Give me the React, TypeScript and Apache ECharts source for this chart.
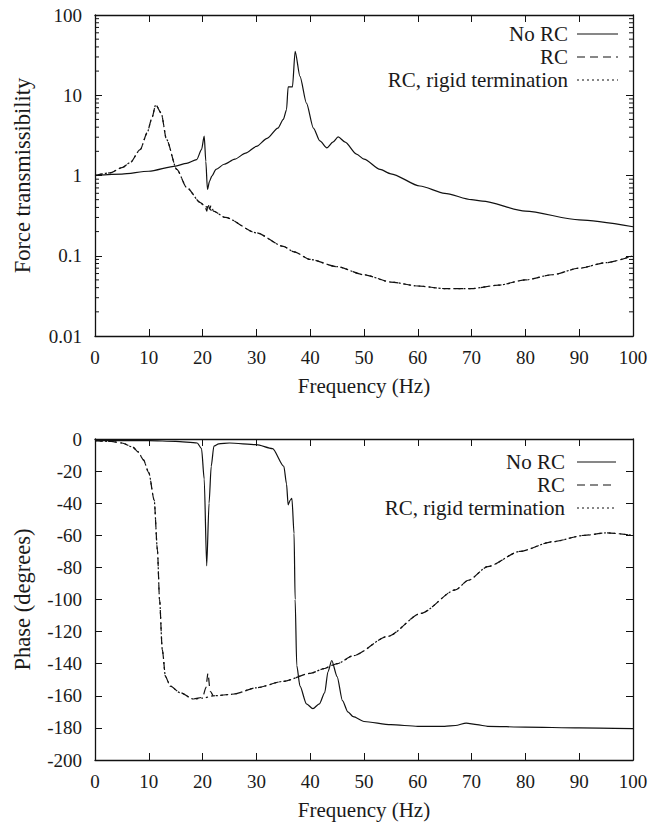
import React, { useEffect, useRef } from "react";
import * as echarts from "echarts";

// ---------- Data ----------
const magNoRcFreq = [0, 5, 10, 15, 17, 18.9, 19.8, 20.3, 20.6, 20.9, 21.3, 21.7, 22.5, 24, 26, 28, 30, 32, 34, 35, 35.6, 35.9, 36.7, 37.2, 38.1, 39.3, 40.6, 41.8, 43.1, 44.2, 45.2, 46.5, 48.6, 50, 53, 55, 60.4, 65, 70, 72, 80, 90, 100];
const magNoRc = [1.0, 1.04, 1.13, 1.31, 1.42, 1.58, 2.1, 3.09, 1.5, 0.67, 0.85, 0.98, 1.19, 1.38, 1.6, 1.9, 2.3, 2.9, 3.9, 5.0, 6.6, 12.7, 12.7, 35.3, 17.2, 8.0, 3.9, 2.7, 2.21, 2.6, 3.03, 2.6, 1.85, 1.6, 1.19, 1.05, 0.74, 0.6, 0.5, 0.48, 0.36, 0.28, 0.23];

const magRcFreq = [0, 2.8, 5, 6.5, 8.4, 9.7, 10.5, 11.3, 12.3, 13.3, 15.2, 17.1, 19.6, 20.5, 20.8, 21.0, 21.3, 21.6, 22, 24.2, 30, 35, 37, 40, 45, 50, 55, 60, 65, 70, 75, 80, 85, 90, 95, 100];
const magRc = [1.0, 1.08, 1.25, 1.44, 2.1, 3.4, 5.0, 7.6, 6.0, 2.8, 1.19, 0.7, 0.46, 0.4, 0.36, 0.45, 0.38, 0.43, 0.36, 0.3, 0.193, 0.131, 0.112, 0.09, 0.073, 0.058, 0.047, 0.042, 0.039, 0.039, 0.043, 0.05, 0.058, 0.07, 0.082, 0.1];

const magRigidFreq = [0, 2.8, 5, 6.5, 8.4, 9.7, 10.5, 11.3, 12.3, 13.3, 15.2, 17.1, 19.6, 20.5, 22, 24.2, 30, 35, 37, 40, 45, 50, 55, 60, 65, 70, 75, 80, 85, 90, 95, 100];
const magRigid = [1.0, 1.08, 1.25, 1.44, 2.1, 3.4, 5.0, 7.6, 6.0, 2.8, 1.19, 0.7, 0.46, 0.41, 0.36, 0.3, 0.193, 0.131, 0.112, 0.09, 0.073, 0.058, 0.047, 0.042, 0.039, 0.039, 0.043, 0.05, 0.058, 0.07, 0.082, 0.1];

const phNoRcFreq = [0, 10, 15, 19, 19.8, 20.3, 20.76, 21.2, 21.6, 22.1, 23, 25, 30, 33, 35.1, 35.6, 35.9, 36.3, 36.6, 37, 37.2, 37.5, 38.1, 39.3, 40.5, 41.7, 42.7, 43.3, 44, 45, 46, 47, 48, 50, 55, 60, 65, 67, 69, 71, 73, 80, 90, 100];
const phNoRc = [-1, -1, -1.5, -2.5, -6, -25, -79, -40, -17, -4.4, -3, -2.5, -3.5, -6, -17, -28, -41, -38, -37, -59, -100, -141, -154, -165, -168, -165, -158, -145, -138, -148, -163, -170, -173, -176, -178, -179, -179, -178.5, -177, -178, -179, -179.5, -180, -180.5];

const phRcFreq = [0, 3, 5, 7, 8, 9, 10, 11, 11.6, 12, 12.5, 13.1, 14, 15.8, 18.3, 20, 20.6, 21, 21.4, 22, 25.7, 30, 35, 40, 42.7, 44, 45, 48, 54.4, 60.6, 67, 69.4, 73, 79, 85, 91, 95, 100];
const phRc = [-1, -1.5, -2.5, -5, -8, -13, -21, -38, -69, -100, -131, -148, -154, -158, -162, -161, -155, -146, -157, -160, -159, -155, -151, -146, -143, -141, -140, -135, -123, -108.6, -94, -88, -79.5, -70, -64, -60, -58.5, -60];

const phRigidFreq = [0, 3, 5, 7, 8, 9, 10, 11, 11.6, 12, 12.5, 13.1, 14, 15.8, 18.3, 20, 22, 25.7, 30, 35, 40, 42.7, 44, 45, 48, 54.4, 60.6, 67, 69.4, 73, 79, 85, 91, 95, 100];
const phRigid = [-1, -1.5, -2.5, -5, -8, -13, -21, -38, -69, -100, -131, -148, -154, -158, -162, -161.5, -160, -159, -155, -151, -146, -143, -141, -140, -135, -123, -108.6, -94, -88, -79.5, -70, -64, -60, -58.5, -60];

const minorLogTicks = [0.02, 0.03, 0.04, 0.05, 0.06, 0.07, 0.08, 0.09, 0.2, 0.3, 0.4, 0.5, 0.6, 0.7, 0.8, 0.9, 2, 3, 4, 5, 6, 7, 8, 9, 20, 30, 40, 50, 60, 70, 80, 90];

const legendNames = ["No RC", "RC", "RC, rigid termination"];
const xTitle = "Frequency (Hz)";
const yTitleTop = "Force transmissibility";
const yTitleBottom = "Phase (degrees)";

// ---------- Styles ----------
const FONT = "Liberation Serif";
const TXT = "#1a1a1a";
const LINE = "#111";
const dashPattern = [8, 5];
const dotPattern = [2, 3];

const zip = (xs: number[], ys: number[]) => xs.map((x, i) => [x, ys[i]]);

export default function App() {
  const ref = useRef<HTMLDivElement>(null);

  useEffect(() => {
    if (!ref.current) return;
    const chart = echarts.init(ref.current, null, { renderer: "svg" });

    const G = [
      { left: 95, top: 15, width: 538, height: 321 },
      { left: 95, top: 439, width: 538, height: 321 },
    ];

    const axisLine = { show: true, onZero: false, lineStyle: { color: LINE, width: 1.3 } };
    const tickStyle = { show: true, inside: true, length: 7, lineStyle: { color: LINE, width: 1 } };
    const labelStyle = { fontFamily: FONT, fontSize: 19, color: TXT };
    const xNameStyle = { fontFamily: FONT, fontSize: 21, color: TXT };
    const yNameStyle = { fontFamily: FONT, fontSize: 22.5, color: TXT };

    const xBottom = (gi: number) => ({
      type: "value",
      gridIndex: gi,
      position: "bottom",
      min: 0,
      max: 100,
      interval: 10,
      axisLine,
      axisTick: tickStyle,
      axisLabel: { ...labelStyle, margin: 12 },
      splitLine: { show: false },
      name: xTitle,
      nameLocation: "middle",
      nameGap: 39,
      nameTextStyle: xNameStyle,
    });
    const xTop = (gi: number) => ({
      type: "value",
      gridIndex: gi,
      position: "top",
      min: 0,
      max: 100,
      interval: 10,
      axisLine,
      axisTick: tickStyle,
      axisLabel: { show: false },
      splitLine: { show: false },
    });

    const logLabel = (v: number) => String(Number(v.toPrecision(3)));

    const yAxes: any[] = [
      {
        type: "log",
        logBase: 10,
        gridIndex: 0,
        position: "left",
        min: 0.01,
        max: 100,
        axisLine,
        axisTick: tickStyle,
        axisLabel: { ...labelStyle, margin: 13, formatter: logLabel },
        splitLine: { show: false },
        name: yTitleTop,
        nameLocation: "middle",
        nameGap: 61,
        nameTextStyle: yNameStyle,
      },
      {
        type: "log",
        logBase: 10,
        gridIndex: 0,
        position: "right",
        min: 0.01,
        max: 100,
        axisLine,
        axisTick: tickStyle,
        axisLabel: { show: false },
        splitLine: { show: false },
      },
      {
        type: "value",
        gridIndex: 1,
        position: "left",
        min: -200,
        max: 0,
        interval: 20,
        axisLine,
        axisTick: tickStyle,
        axisLabel: { ...labelStyle, margin: 13 },
        splitLine: { show: false },
        name: yTitleBottom,
        nameLocation: "middle",
        nameGap: 61,
        nameTextStyle: yNameStyle,
      },
      {
        type: "value",
        gridIndex: 1,
        position: "right",
        min: -200,
        max: 0,
        interval: 20,
        axisLine,
        axisTick: tickStyle,
        axisLabel: { show: false },
        splitLine: { show: false },
      },
    ];

    const lineSeries = (
      name: string,
      data: number[][],
      xi: number,
      yi: number,
      type: any,
      z: number
    ) => ({
      type: "line",
      name,
      data,
      xAxisIndex: xi,
      yAxisIndex: yi,
      showSymbol: false,
      symbol: "none",
      smooth: 0.25,
      smoothMonotone: "x",
      z,
      lineStyle: { color: LINE, width: 1.2, type },
      emphasis: { disabled: true },
    });

    const minorTickSeries = {
      type: "custom",
      xAxisIndex: 0,
      yAxisIndex: 0,
      clip: false,
      silent: true,
      data: minorLogTicks.map((v) => [0, v]),
      encode: { x: 0, y: 1 },
      renderItem: (params: any, api: any) => {
        const v = api.value(1);
        const pl = api.coord([0, v]);
        const pr = api.coord([100, v]);
        return {
          type: "group",
          children: [
            { type: "line", shape: { x1: pl[0], y1: pl[1], x2: pl[0] + 4, y2: pl[1] }, style: { stroke: LINE, lineWidth: 1 } },
            { type: "line", shape: { x1: pr[0], y1: pr[1], x2: pr[0] - 4, y2: pr[1] }, style: { stroke: LINE, lineWidth: 1 } },
          ],
        };
      },
    };

    const legendGraphic = (top: number, textRight: number, lineX1: number, lineX2: number) => {
      const items: any[] = [];
      const patterns: any[] = [null, dashPattern, dotPattern];
      legendNames.forEach((n, i) => {
        const y = top + i * 23;
        items.push({
          type: "text",
          x: textRight,
          y,
          style: {
            text: n,
            fontFamily: FONT,
            fontSize: 21,
            fill: TXT,
            align: "right",
            verticalAlign: "middle",
          },
        });
        items.push({
          type: "line",
          shape: { x1: lineX1, y1: y, x2: lineX2, y2: y },
          style: { stroke: LINE, lineWidth: 1.2, lineDash: patterns[i] },
        });
      });
      return items;
    };

    chart.setOption({
      animation: false,
      grid: G,
      xAxis: [xBottom(0), xTop(0), xBottom(1), xTop(1)],
      yAxis: yAxes,
      series: [
        lineSeries(legendNames[2], zip(magRigidFreq, magRigid), 0, 0, dotPattern, 2),
        lineSeries(legendNames[1], zip(magRcFreq, magRc), 0, 0, dashPattern, 3),
        lineSeries(legendNames[0], zip(magNoRcFreq, magNoRc), 0, 0, "solid", 4),
        minorTickSeries,
        lineSeries(legendNames[2], zip(phRigidFreq, phRigid), 2, 2, dotPattern, 2),
        lineSeries(legendNames[1], zip(phRcFreq, phRc), 2, 2, dashPattern, 3),
        lineSeries(legendNames[0], zip(phNoRcFreq, phNoRc), 2, 2, "solid", 4),
      ],
      graphic: [
        ...legendGraphic(34, 568, 577, 618),
        ...legendGraphic(462, 565, 577, 616),
      ],
    });

    return () => chart.dispose();
  }, []);

  return (
    <div
      ref={ref}
      style={{ position: "absolute", left: 0, top: 0, width: 652, height: 823 }}
    />
  );
}
